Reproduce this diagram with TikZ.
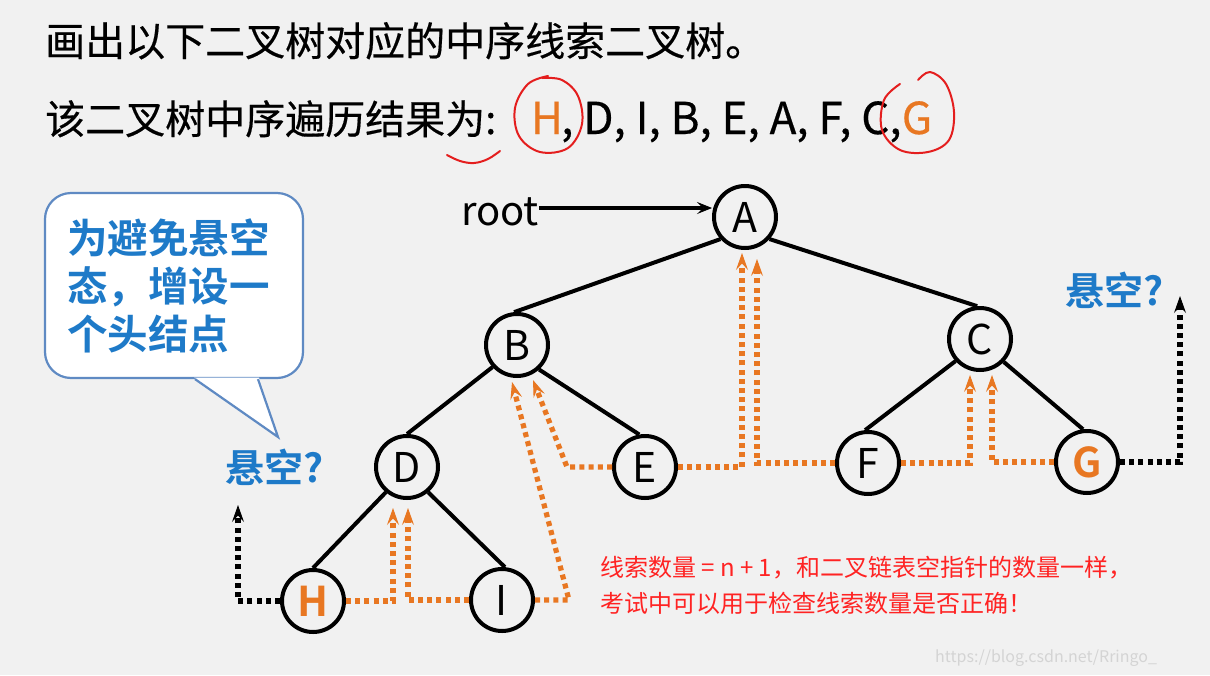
\documentclass[tikz,border=0pt]{standalone}
\usepackage{fontspec}
\setmainfont{Noto Sans CJK SC}[BoldFont={Noto Sans CJK SC Bold}]
\newfontfamily\headfont{Noto Sans CJK SC}[FakeBold=0.4]
\usetikzlibrary{arrows.meta}
\definecolor{bgc}{RGB}{241,241,241}
\definecolor{orng}{RGB}{232,119,34}
\definecolor{bblue}{RGB}{30,122,200}
\definecolor{bborder}{RGB}{95,138,195}
\definecolor{redm}{RGB}{228,30,30}
\definecolor{rednote}{RGB}{255,35,35}
\definecolor{wm}{RGB}{212,212,212}
\begin{document}
\begin{tikzpicture}[x=1pt,y=-1pt,
  tn/.style={circle,draw,line width=4pt,minimum size=62pt,inner sep=0pt,font=\fontsize{41}{41}\selectfont},
  tnh/.style={tn,text=orng,font=\fontsize{41}{41}\selectfont\bfseries},
  edge/.style={line width=4pt},
  othr/.style={draw=orng,line width=5.2pt,dash pattern=on 5pt off 4.2pt,
    -{Stealth[length=17pt,width=12pt,inset=6.5pt,line width=1pt,fill=orng]}},
  kthr/.style={draw=black,line width=5.2pt,dash pattern=on 5pt off 4.2pt,
    -{Stealth[length=17pt,width=12pt,inset=6.5pt,line width=1pt,fill=black]}},
  txt/.style={inner sep=0pt,font=\headfont\fontsize{40}{40}\selectfont},
  ltxt/.style={inner sep=0pt,font=\headfont\fontsize{44}{44}\selectfont},
  bluelab/.style={inner sep=0pt,text=bblue,font=\fontsize{39}{39}\selectfont\bfseries},
  redmark/.style={draw=redm,line width=2pt,line cap=round,line join=round},
  note/.style={inner sep=0pt,text=rednote,font=\fontsize{24}{24}\selectfont}
]
\fill[bgc] (0,0) rectangle (1210,675);

% title lines
\node[txt,anchor=base west] (t1) at (45,56) {画出以下二叉树对应的中序线索二叉树。};
\node[txt,anchor=base west] (t2a) at (45,134) {该二叉树中序遍历结果为:};
\node[ltxt,anchor=base,text=orng] (t2h) at (547,134) {H};
\node[ltxt,anchor=base west] (t2b) at (561,134) {, D, I, B, E, A, F, C,};
\node[ltxt,anchor=base,text=orng] (t2g) at (917,134) {G};

% red hand marks
\draw[redmark] plot[smooth,tension=0.6] coordinates {(548,76) (528,84) (515,108) (519,136) (540,152) (568,148) (582,124) (578,96) (562,80) (542,78)};
\draw[redmark] plot[smooth,tension=0.6] coordinates {(918,80) (930,72) (946,84) (954,112) (949,140) (928,152) (900,150) (882,130) (884,100) (900,84)};
\draw[redmark] plot[smooth,tension=0.6] coordinates {(447,155) (460,161) (474,163) (488,159) (500,151)};

% speech bubble
\node[draw=bborder,fill=white,line width=2.2pt,rounded corners=26pt,minimum width=258pt,minimum height=185pt,
  text width=214pt,align=left,inner sep=0pt,text=bblue,font=\fontsize{40.5}{48}\selectfont\bfseries] (bub) at (174,285.5) {为避免悬空\\态，增设一\\个头结点};
\coordinate (tipB) at (278,437);
\fill[white] ([xshift=20pt,yshift=1.6pt]bub.south) -- (tipB) -- ([xshift=85pt,yshift=1.6pt]bub.south) -- cycle;
\draw[draw=bborder,line width=2.2pt,line join=miter] ([xshift=21pt]bub.south) -- (tipB) -- ([xshift=84pt]bub.south);

\node[bluelab] (q1) at (275,467) {悬空?};
\node[bluelab] (q2) at (1115,290) {悬空?};

% tree nodes
\node[tn] (A) at (745,217) {A};
\node[tn] (B) at (517,345) {B};
\node[tn] (C) at (980,339) {C};
\node[tn] (D) at (407,467) {D};
\node[tn] (E) at (645,467) {E};
\node[tn] (F) at (868,463) {F};
\node[tnh] (G) at (1087,462) {G};
\node[tnh] (H) at (313,601) {H};
\node[tn] (I) at (502,600) {I};

% root
\node[txt,font=\fontsize{40}{40}\selectfont] (root) at (500,212) {root};
\draw[line width=3.2pt,-{Stealth[length=15pt,width=12pt,inset=6pt,line width=0.8pt]}]
  ([yshift=4pt]root.east) -- ([yshift=4pt]root.east -| A.west);

% edges
\draw[edge] (A.222) -- (B.95);
\draw[edge] (A.-42) -- (C.95);
\draw[edge] (B.222) -- (D.90);
\draw[edge] (B.-48) -- (E.100);
\draw[edge] (C.222) -- (F.95);
\draw[edge] (C.-44) -- (G.97);
\draw[edge] (D.230) -- (H.90);
\draw[edge] (D.-50) -- (I.85);

% threads
\draw[othr] (H.east) -| ([xshift=-14pt,yshift=-8pt]D.south);
\draw[othr] (I.west) -| ([xshift=1pt,yshift=-8pt]D.south);
\draw[othr] (I.east) -- ++(34,0) -- ([xshift=-5pt,yshift=-4pt]B.south);
\draw[othr] (E.west) -- ++(-45,0) -- ([xshift=16pt,yshift=-2pt]B.south);
\draw[othr] (E.east) -| ([xshift=-3pt,yshift=-3pt]A.south);
\draw[othr] (F.west) -| ([xshift=12pt,yshift=-9pt]A.south);
\draw[othr] (F.east) -| ([xshift=-10pt,yshift=-3pt]C.south);
\draw[othr] (G.west) -| ([xshift=12pt,yshift=-3pt]C.south);
\coordinate (gUp) at (1180,296);
\coordinate (hUp) at (238,505);
\draw[kthr] (G.east) -| (gUp);
\draw[kthr] (H.west) -| (hUp);

% note
\node[note,anchor=base west] (n1) at (600,576) {线索数量 = n + 1，和二叉链表空指针的数量一样，};
\node[note,anchor=base west] (n2) at (600,612) {考试中可以用于检查线索数量是否正确！};
\node[inner sep=0pt,anchor=base west,text=wm,font=\fontsize{16}{16}\selectfont] (wmk) at (935,662) {https://blog.csdn.net/Rringo\_};
\end{tikzpicture}
\end{document}
